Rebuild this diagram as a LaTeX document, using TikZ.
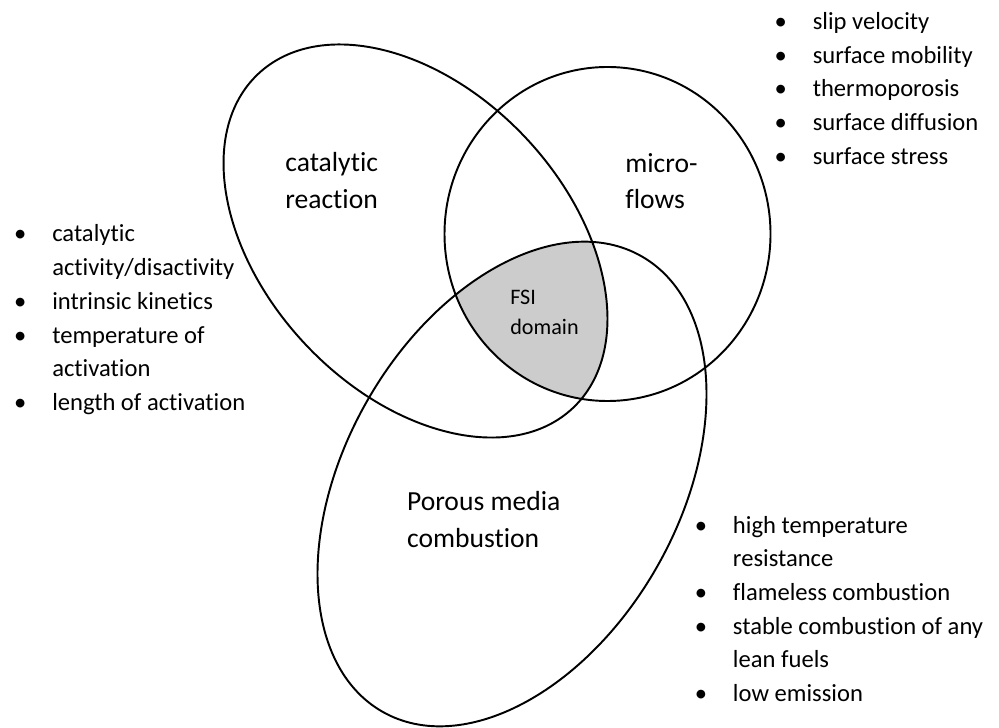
\documentclass[tikz,border=0pt]{standalone}
\usepackage{fontspec}
\setmainfont{Carlito}[Ligatures=NoCommon]
\usepackage{tikz}

% the three sets (pixel units)
\newcommand{\catset}{(415.5,486) ellipse [x radius=229.5, y radius=151, rotate=-46.7]}
\newcommand{\flowset}{(607.5,493) ellipse [x radius=163, y radius=167]}
\newcommand{\porset}{(512,243) ellipse [x radius=262, y radius=167, rotate=60.4]}

\newcommand{\itm}{\makebox[21.7pt][l]{\textbullet}}
\newcommand{\cnt}{\hspace*{21.7pt}}

\tikzset{
  setline/.style={line width=1.1pt},
  setlabel/.style={anchor=base west, inner sep=0pt, font=\fontsize{15.7}{20.7}\selectfont},
  props/.style={anchor=base west, inner sep=0pt, font=\fontsize{14}{19.2}\selectfont},
}

\begin{document}
\begin{tikzpicture}[x=0.02cm, y=0.02cm]
\useasboundingbox (0,0) rectangle (999,727);

% FSI domain
\begin{scope}
\clip \catset;
\clip \flowset;
\fill[gray!40] \porset;
\end{scope}

\draw[setline] \catset;
\draw[setline] \flowset;
\draw[setline] \porset;

\node[setlabel] (cat) at (285,555.3) {\begin{tabular}[t]{@{}l@{}}catalytic\\reaction\end{tabular}};
\node[setlabel] (micro) at (625,554.7) {\begin{tabular}[t]{@{}l@{}}micro-\\flows\end{tabular}};
\node[setlabel] (por) at (406.7,216.3) {\begin{tabular}[t]{@{}l@{}}Porous media\\combustion\end{tabular}};
\node[anchor=base west, inner sep=0pt, font=\fontsize{12.6}{17}\selectfont] (fsi) at (510,422)
  {\begin{tabular}[t]{@{}l@{}}FSI\\domain\end{tabular}};

% properties
\node[props] (catprops) at (13.8,485) {\begin{tabular}[t]{@{}l@{}}
\itm catalytic\\
\cnt activity/disactivity\\
\itm intrinsic kinetics\\
\itm temperature of\\
\cnt activation\\
\itm length of activation
\end{tabular}};
\node[props] (flowprops) at (774.3,697.7) {\begin{tabular}[t]{@{}l@{}}
\itm slip velocity\\
\itm surface mobility\\
\itm thermoporosis\\
\itm surface diffusion\\
\itm surface stress
\end{tabular}};
\node[props] (porprops) at (694.5,194) {\begin{tabular}[t]{@{}l@{}}
\itm high temperature\\
\cnt resistance\\
\itm flameless combustion\\
\itm stable combustion of any\\
\cnt lean fuels\\
\itm low emission
\end{tabular}};
\end{tikzpicture}
\end{document}
